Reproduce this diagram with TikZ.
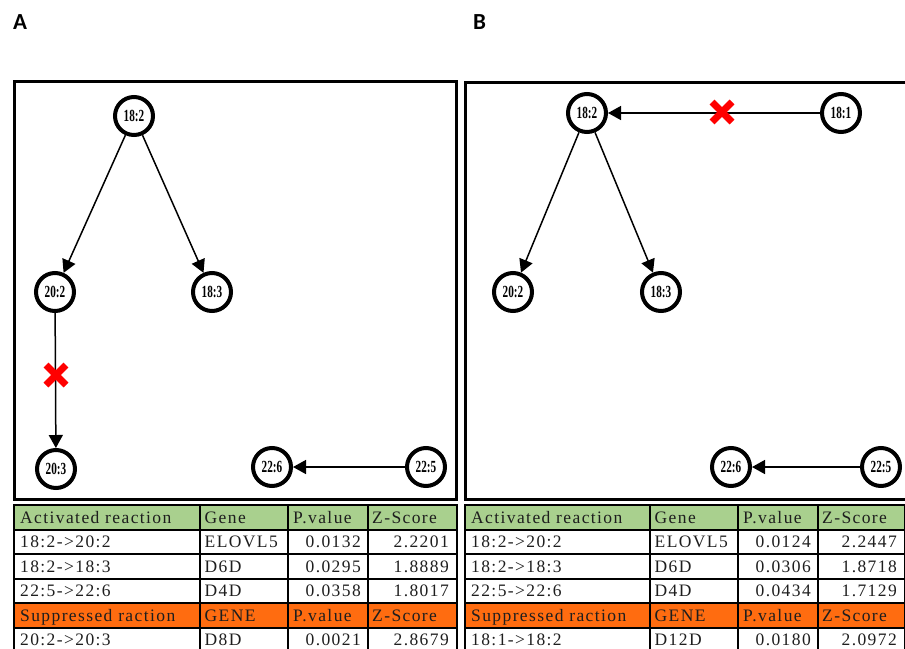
\documentclass[tikz,border=0pt]{standalone}
\usepackage{fontspec}
\setmainfont{Liberation Serif}
\newfontfamily\labfont{Carlito}
\newfontfamily\tabfont{Liberation Serif}[LetterSpace=8]
\newfontfamily\nodefont{Liberation Serif}[FakeStretch=0.66]
\usetikzlibrary{arrows.meta}
\definecolor{hdrgreen}{RGB}{169,208,142}
\definecolor{hdrorange}{RGB}{255,108,16}
\definecolor{xred}{RGB}{255,0,0}
\definecolor{celltext}{RGB}{30,30,30}

% Reaction table: #1 name prefix, #2..#6 column edges, #7 data rows r/reaction/gene/p/z
\newcommand\ratetable[7]{%
  \fill[hdrgreen] (#2,505) rectangle (#6,529.5);
  \fill[hdrorange] (#2,603) rectangle (#6,627.5);
  \foreach \yy in {505,529.5,554,578.5,603,627.5,652}
    \draw[gridline] (#2-1,\yy) -- (#6+1,\yy);
  \foreach \xx in {#2,#3,#4,#5,#6}
    \draw[gridline] (\xx,504) -- (\xx,653);
  \foreach \r/\ta/\tb in {1/Activated reaction/Gene,5/Suppressed raction/GENE}{
    \pgfmathsetmacro\yb{505+\r*24.5-6.5}
    \node[cell,anchor=base west] (#1-\r-1) at (#2+6,\yb) {\ta};
    \node[cell,anchor=base west] (#1-\r-2) at (#3+4.5,\yb) {\tb};
    \node[cell,anchor=base west] (#1-\r-3) at (#4+5,\yb) {P.value};
    \node[cell,anchor=base west] (#1-\r-4) at (#5+4,\yb) {Z-Score};
  }
  \foreach \r/\ta/\tb/\tc/\td in {#7}{
    \pgfmathsetmacro\yb{505+\r*24.5-6.5}
    \node[cell,anchor=base west] (#1-\r-1) at (#2+6,\yb) {\ta};
    \node[cell,anchor=base west] (#1-\r-2) at (#3+4.5,\yb) {\tb};
    \node[cell,anchor=base east] (#1-\r-3) at (#5-7,\yb) {\tc};
    \node[cell,anchor=base east] (#1-\r-4) at (#6-8,\yb) {\td};
  }%
}

\begin{document}
\begin{tikzpicture}[x=1pt,y=-1pt,
  fa/.style={circle,draw,line width=4pt,minimum size=38pt,inner sep=0pt,
    font=\nodefont\bfseries\fontsize{17}{18}\selectfont},
  arr/.style={-{Triangle[length=13pt,width=14pt]},line width=1.5pt},
  xmark/.style={draw=xred,line width=7pt},
  panel/.style={draw,line width=3pt},
  gridline/.style={draw,line width=2pt},
  cell/.style={inner sep=0pt,text=celltext,font=\tabfont\fontsize{17.5}{19}\selectfont},
  panellab/.style={inner sep=0pt,anchor=base west,font=\labfont\bfseries\fontsize{23}{25}\selectfont}]
\useasboundingbox (0,0) rectangle (905,648);
\clip (0,0) rectangle (905,648);

% panel letters
\node[panellab] (labA) at (13,29.5) {A};
\node[panellab] (labB) at (473,29.5) {B};

% frames
\draw[panel] (14,81) rectangle (456,499);
\draw[panel] (465,82) rectangle (910,499);

% ---- network A ----
\node[fa] (a182) at (134,116) {18:2};
\node[fa] (a202) at (55,292) {20:2};
\node[fa] (a183) at (212,292) {18:3};
\node[fa] (a203) at (56,469) {20:3};
\node[fa] (a226) at (272,467) {22:6};
\node[fa] (a225) at (426,467) {22:5};
\draw[arr] (a182) -- (a202);
\draw[arr] (a182) -- (a183);
\draw[arr] (a202) -- (a203);
\draw[arr] (a225) -- (a226);
\coordinate (xa) at (56,375);
\draw[xmark] ([shift={(-10,-10)}]xa) -- ([shift={(10,10)}]xa)
             ([shift={(-10,10)}]xa) -- ([shift={(10,-10)}]xa);

% ---- network B ----
\node[fa] (b182) at (587,113) {18:2};
\node[fa] (b181) at (841,113) {18:1};
\node[fa] (b202) at (513,292) {20:2};
\node[fa] (b183) at (661,292) {18:3};
\node[fa] (b226) at (731,467) {22:6};
\node[fa] (b225) at (881,467) {22:5};
\draw[arr] (b181) -- (b182);
\draw[arr] (b182) -- (b202);
\draw[arr] (b182) -- (b183);
\draw[arr] (b225) -- (b226);
\coordinate (xb) at (722,112);
\draw[xmark] ([shift={(-10,-10)}]xb) -- ([shift={(10,10)}]xb)
             ([shift={(-10,10)}]xb) -- ([shift={(10,-10)}]xb);

% ---- tables ----
\ratetable{ta}{14}{200}{288}{368}{457}{%
  2/18:2->20:2/ELOVL5/0.0132/2.2201,
  3/18:2->18:3/D6D/0.0295/1.8889,
  4/22:5->22:6/D4D/0.0358/1.8017,
  6/20:2->20:3/D8D/0.0021/2.8679}
\ratetable{tb}{465}{650}{738}{818}{905}{%
  2/18:2->20:2/ELOVL5/0.0124/2.2447,
  3/18:2->18:3/D6D/0.0306/1.8718,
  4/22:5->22:6/D4D/0.0434/1.7129,
  6/18:1->18:2/D12D/0.0180/2.0972}
\end{tikzpicture}
\end{document}
